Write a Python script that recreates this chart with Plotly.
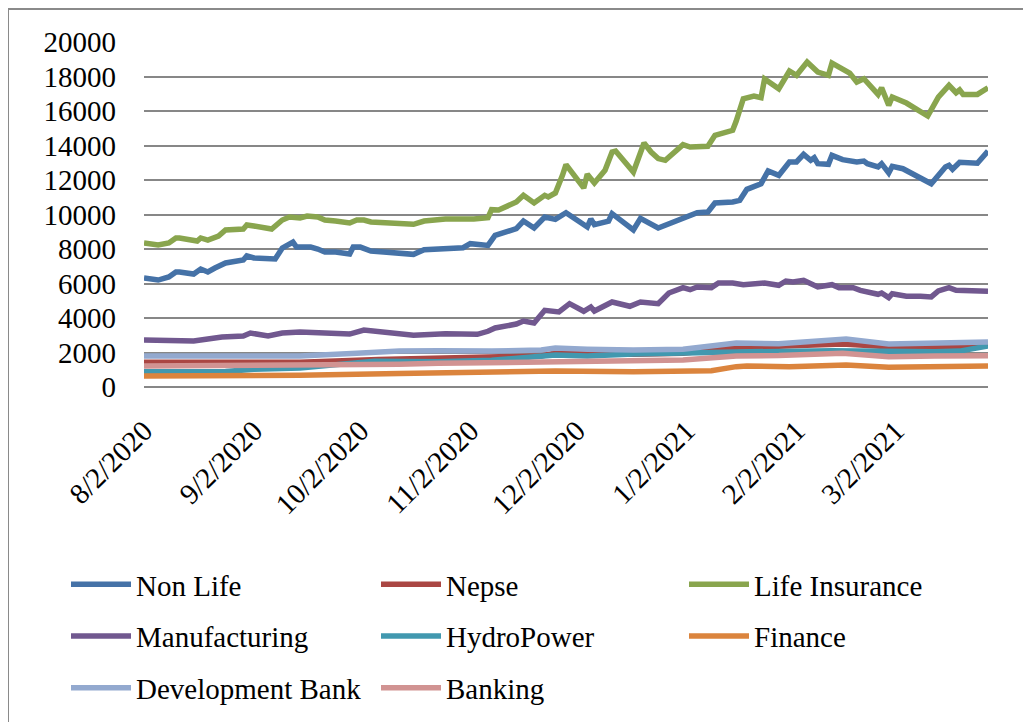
import plotly.graph_objects as go

# ---------------- data ----------------
non_life_dates = [
    "2020-08-02", "2020-08-06", "2020-08-09", "2020-08-11", "2020-08-12", "2020-08-16", "2020-08-18", "2020-08-20",
    "2020-08-22", "2020-08-25", "2020-08-30", "2020-08-31", "2020-09-02", "2020-09-06", "2020-09-08", "2020-09-10",
    "2020-09-13", "2020-09-14", "2020-09-18", "2020-09-20", "2020-09-22", "2020-09-25", "2020-09-29", "2020-09-30",
    "2020-10-02", "2020-10-05", "2020-10-13", "2020-10-17", "2020-10-20", "2020-10-31", "2020-11-02", "2020-11-07",
    "2020-11-09", "2020-11-15", "2020-11-17", "2020-11-20", "2020-11-23", "2020-11-26", "2020-11-29", "2020-12-05",
    "2020-12-06", "2020-12-07", "2020-12-11", "2020-12-12", "2020-12-18", "2020-12-20", "2020-12-25", "2020-12-28",
    "2020-12-31", "2021-01-05", "2021-01-08", "2021-01-10", "2021-01-15", "2021-01-17", "2021-01-19", "2021-01-23",
    "2021-01-25", "2021-01-28", "2021-01-31", "2021-02-02", "2021-02-04", "2021-02-06", "2021-02-07", "2021-02-08",
    "2021-02-11", "2021-02-12", "2021-02-15", "2021-02-19", "2021-02-21", "2021-02-22", "2021-02-25", "2021-02-26",
    "2021-02-28", "2021-03-01", "2021-03-04", "2021-03-09", "2021-03-12", "2021-03-16", "2021-03-17", "2021-03-18",
    "2021-03-20", "2021-03-25", "2021-03-28"]
non_life = [
    6320, 6200, 6380, 6670, 6670, 6550, 6840, 6670,
    6900, 7190, 7360, 7600, 7480, 7480, 7420, 8060,
    8400, 8110, 8110, 8000, 7830, 7830, 7710, 8110,
    8110, 7885, 7720, 7690, 7960, 8075, 8310, 8210,
    8790, 9180, 9620, 9220, 9855, 9720, 10100, 9275,
    9740, 9410, 9620, 10050, 9100, 9780, 9220, 9465,
    9660, 10100, 10145, 10670, 10725, 10820, 11460, 11785,
    12520, 12270, 13045, 13045, 13490, 13140, 13290, 12945,
    12910, 13430, 13180, 13045, 13100, 12945, 12755, 12945,
    12405, 12795, 12655, 12135, 11785, 12755, 12850, 12620,
    13025, 12970, 13680]

life_dates = [
    "2020-08-02", "2020-08-06", "2020-08-09", "2020-08-11", "2020-08-12", "2020-08-16", "2020-08-17", "2020-08-18",
    "2020-08-20", "2020-08-23", "2020-08-25", "2020-08-30", "2020-08-31", "2020-09-02", "2020-09-05", "2020-09-07",
    "2020-09-10", "2020-09-12", "2020-09-15", "2020-09-17", "2020-09-20", "2020-09-22", "2020-09-25", "2020-09-29",
    "2020-10-01", "2020-10-03", "2020-10-05", "2020-10-13", "2020-10-17", "2020-10-20", "2020-10-26", "2020-11-03",
    "2020-11-07", "2020-11-08", "2020-11-10", "2020-11-15", "2020-11-17", "2020-11-20", "2020-11-23", "2020-11-24",
    "2020-11-26", "2020-11-28", "2020-11-29", "2020-12-04", "2020-12-05", "2020-12-07", "2020-12-10", "2020-12-12",
    "2020-12-13", "2020-12-18", "2020-12-21", "2020-12-23", "2020-12-25", "2020-12-27", "2021-01-01", "2021-01-03",
    "2021-01-08", "2021-01-10", "2021-01-15", "2021-01-16", "2021-01-18", "2021-01-21", "2021-01-23", "2021-01-24",
    "2021-01-28", "2021-01-31", "2021-02-02", "2021-02-05", "2021-02-08", "2021-02-11", "2021-02-12", "2021-02-17",
    "2021-02-19", "2021-02-21", "2021-02-25", "2021-02-26", "2021-02-28", "2021-03-01", "2021-03-05", "2021-03-11",
    "2021-03-14", "2021-03-17", "2021-03-19", "2021-03-20", "2021-03-21", "2021-03-25", "2021-03-28"]
life_insurance = [
    8350, 8230, 8350, 8640, 8640, 8520, 8460, 8640,
    8520, 8750, 9100, 9160, 9390, 9330, 9275, 9160,
    9680, 9855, 9800, 9910, 9855, 9680, 9620, 9510,
    9680, 9680, 9565, 9480, 9430, 9620, 9740, 9740,
    9815, 10280, 10260, 10725, 11110, 10670, 11110, 11015,
    11245, 12270, 12890, 11540, 12330, 11825, 12560, 13620,
    13680, 12460, 14145, 13620, 13240, 13140, 14050, 13910,
    13950, 14590, 14880, 15420, 16710, 16870, 16770, 17855,
    17290, 18320, 18070, 18840, 18260, 18070, 18780, 18200,
    17680, 17870, 16960, 17350, 16330, 16810, 16460, 15710,
    16810, 17490, 17060, 17220, 16960, 16960, 17350]

manuf_dates = [
    "2020-08-02", "2020-08-09", "2020-08-16", "2020-08-20", "2020-08-24", "2020-08-30", "2020-09-01", "2020-09-06",
    "2020-09-10", "2020-09-15", "2020-09-20", "2020-09-26", "2020-09-29", "2020-10-03", "2020-10-06", "2020-10-13",
    "2020-10-17", "2020-10-26", "2020-11-04", "2020-11-07", "2020-11-09", "2020-11-15", "2020-11-17", "2020-11-20",
    "2020-11-23", "2020-11-27", "2020-11-30", "2020-12-04", "2020-12-06", "2020-12-07", "2020-12-12", "2020-12-17",
    "2020-12-20", "2020-12-25", "2020-12-28", "2021-01-01", "2021-01-03", "2021-01-05", "2021-01-09", "2021-01-11",
    "2021-01-15", "2021-01-18", "2021-01-24", "2021-01-28", "2021-01-30", "2021-02-01", "2021-02-04", "2021-02-08",
    "2021-02-12", "2021-02-14", "2021-02-18", "2021-02-20", "2021-02-25", "2021-02-26", "2021-02-28", "2021-03-01",
    "2021-03-05", "2021-03-09", "2021-03-12", "2021-03-14", "2021-03-17", "2021-03-19", "2021-03-28"]
manufacturing = [
    2725, 2725, 2670, 2780, 2900, 2960, 3130, 2960,
    3130, 3190, 3130, 3130, 3070, 3300, 3245, 3050,
    3000, 3090, 3055, 3230, 3420, 3650, 3825, 3710,
    4445, 4350, 4830, 4390, 4640, 4405, 4930, 4680,
    4930, 4830, 5450, 5760, 5640, 5800, 5760, 6030,
    6030, 5930, 6030, 5895, 6145, 6085, 6185, 5800,
    5930, 5760, 5760, 5605, 5375, 5450, 5180, 5410,
    5260, 5260, 5220, 5565, 5760, 5605, 5550]

nepse_dates = ["2020-08-02", "2020-08-25", "2020-09-15", "2020-10-07", "2020-10-24", "2020-11-08", "2020-11-22",
               "2020-11-26", "2020-12-05", "2020-12-18", "2021-01-01", "2021-01-16", "2021-01-28", "2021-02-15",
               "2021-02-28", "2021-03-18", "2021-03-28"]
nepse = [1430, 1420, 1440, 1600, 1700, 1720, 1800,
         1970, 1920, 1895, 1950, 2300, 2360, 2490,
         2335, 2335, 2450]

hydro_dates = ["2020-08-02", "2020-08-25", "2020-09-02", "2020-09-15", "2020-10-06", "2020-10-24", "2020-11-08",
               "2020-11-26", "2020-12-05", "2020-12-18", "2021-01-16", "2021-02-12", "2021-03-13", "2021-03-20",
               "2021-03-28"]
hydropower = [890, 900, 1025, 1100, 1500, 1470, 1550,
              1850, 1800, 1910, 2030, 2105, 2045, 2080,
              2380]

finance_dates = ["2020-08-02", "2020-08-25", "2020-09-15", "2020-10-13", "2020-11-08", "2020-11-26", "2020-12-18",
                 "2021-01-05", "2021-01-09", "2021-01-16", "2021-01-19", "2021-01-31", "2021-02-16", "2021-02-28",
                 "2021-03-13", "2021-03-28"]
finance = [640, 620, 680, 780, 840, 925, 890,
           900, 945, 1180, 1215, 1180, 1275, 1140,
           1160, 1215]

devbank_dates = ["2020-08-02", "2020-08-25", "2020-09-15", "2020-10-01", "2020-10-13", "2020-10-24", "2020-11-08",
                 "2020-11-22", "2020-11-26", "2020-12-05", "2020-12-18", "2021-01-01", "2021-01-16", "2021-01-28",
                 "2021-02-08", "2021-02-16", "2021-02-28", "2021-03-13", "2021-03-28"]
development_bank = [1800, 1790, 1800, 1950, 2085, 2100, 2080,
                    2150, 2260, 2190, 2145, 2185, 2550, 2510,
                    2650, 2780, 2490, 2530, 2610]

banking_dates = ["2020-08-02", "2020-09-15", "2020-10-13", "2020-10-24", "2020-11-08", "2020-11-26", "2020-12-18",
                 "2021-01-01", "2021-01-16", "2021-01-28", "2021-02-15", "2021-02-28", "2021-03-13", "2021-03-28"]
banking = [1215, 1230, 1315, 1370, 1400, 1505, 1525,
           1560, 1800, 1820, 1950, 1760, 1790, 1815]

tick_dates = ["2020-08-02", "2020-09-02", "2020-10-02", "2020-11-02", "2020-12-02",
              "2021-01-02", "2021-02-02", "2021-03-02"]
tick_labels = ["8/2/2020", "9/2/2020", "10/2/2020", "11/2/2020", "12/2/2020",
               "1/2/2021", "2/2/2021", "3/2/2021"]

# ---------------- figure ----------------
series = [
    ("Non Life", non_life_dates, non_life, "#4572A7", "legend"),
    ("Nepse", nepse_dates, nepse, "#AA4643", "legend2"),
    ("Life Insurance", life_dates, life_insurance, "#89A54E", "legend3"),
    ("Manufacturing", manuf_dates, manufacturing, "#71588F", "legend"),
    ("HydroPower", hydro_dates, hydropower, "#4198AF", "legend2"),
    ("Finance", finance_dates, finance, "#DB843D", "legend3"),
    ("Development Bank", devbank_dates, development_bank, "#93A9CF", "legend"),
    ("Banking", banking_dates, banking, "#D19392", "legend2"),
]

fig = go.Figure()
for name, dts, vals, color, leg in series:
    assert len(dts) == len(vals), name
    fig.add_trace(go.Scatter(x=dts, y=vals, mode="lines", name=name,
                             line=dict(color=color, width=5.5),
                             legend=leg, legendgroup=name))

# The page body has an 8px default margin, so the figure is drawn 8px smaller
# and all page-pixel positions below are converted with that offset.
OFF = 8
W, H = 1031 - OFF, 722 - OFF
PLOT_L, PLOT_R, PLOT_T, PLOT_B = 144, 988, 42, 387   # page pixels of plot area
L, T = PLOT_L - OFF, PLOT_T - OFF
R, B = W - (PLOT_R - OFF), H - (PLOT_B - OFF)
pw, ph = W - L - R, H - T - B


def px_x(p):
    return (p - OFF - L) / pw


def px_y(p):
    return (H - B - (p - OFF)) / ph


FONT = "Liberation Serif, Times New Roman, serif"
leg_common = dict(orientation="v", xanchor="left", yanchor="top", tracegroupgap=11,
                  itemwidth=60, bgcolor="rgba(0,0,0,0)",
                  font=dict(family=FONT, size=29, color="black"))

fig.update_layout(
    width=W, height=H,
    margin=dict(l=L, r=R, t=T, b=B, pad=0, autoexpand=False),
    paper_bgcolor="white", plot_bgcolor="white",
    font=dict(family=FONT, size=29, color="black"),
    showlegend=True,
    legend=dict(x=px_x(66), y=px_y(559), **leg_common),
    legend2=dict(x=px_x(376), y=px_y(559), **leg_common),
    legend3=dict(x=px_x(684), y=px_y(559), **leg_common),
    xaxis=dict(type="date", range=["2020-08-02", "2021-03-28"],
               tickmode="array", tickvals=tick_dates, ticktext=tick_labels,
               tickangle=-45, showgrid=False, zeroline=False, showline=False,
               ticks="", ticklabelstandoff=20, automargin=False,
               tickfont=dict(family=FONT, size=29, color="black")),
    yaxis=dict(range=[0, 20000], dtick=2000, tick0=0, tickformat="d",
               showgrid=True, gridcolor="#878787", gridwidth=2,
               zeroline=True, zerolinecolor="#878787", zerolinewidth=2,
               showline=False, ticks="", ticklabelstandoff=27, automargin=False,
               tickfont=dict(family=FONT, size=29, color="black")),
    shapes=[dict(type="rect", xref="paper", yref="paper",
                 x0=px_x(8), x1=px_x(1045), y0=px_y(740), y1=px_y(9),
                 line=dict(color="#8a8a8a", width=2), fillcolor="rgba(0,0,0,0)",
                 layer="below")],
)

fig.write_html("out.html")
